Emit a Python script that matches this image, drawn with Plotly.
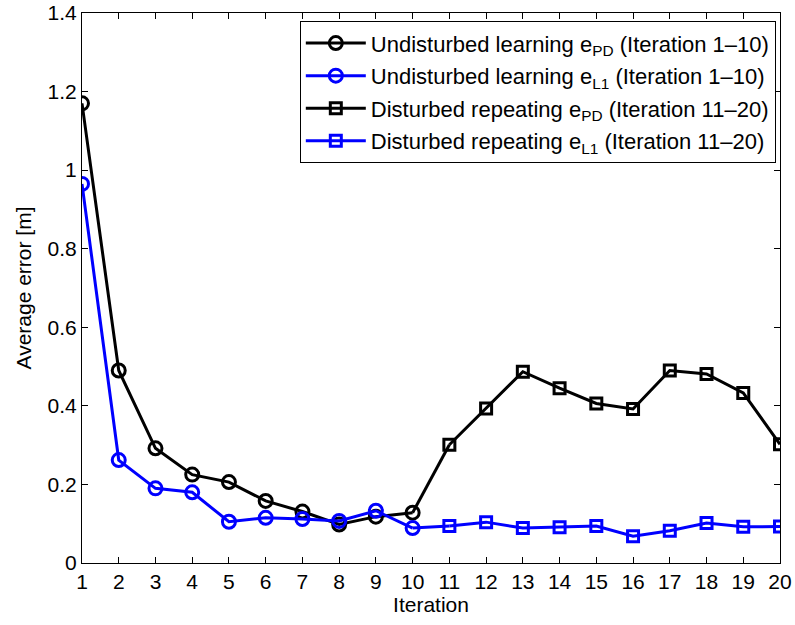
import plotly.graph_objects as go

iter_a = [1, 2, 3, 4, 5, 6, 7, 8, 9, 10]
iter_b = [11, 12, 13, 14, 15, 16, 17, 18, 19, 20]
pd_undist = [1.17, 0.49, 0.292, 0.225, 0.206, 0.158, 0.131, 0.098, 0.118, 0.128]
l1_undist = [0.965, 0.262, 0.19, 0.18, 0.105, 0.115, 0.112, 0.107, 0.133, 0.089]
pd_dist = [0.301, 0.393, 0.487, 0.445, 0.406, 0.392, 0.490, 0.481, 0.433, 0.302]
l1_dist = [0.094, 0.104, 0.089, 0.091, 0.094, 0.068, 0.082, 0.102, 0.092, 0.093]
x_ticks = list(range(1, 21))
y_ticks = [0, 0.2, 0.4, 0.6, 0.8, 1, 1.2, 1.4]
y_tick_text = ["0", "0.2", "0.4", "0.6", "0.8", "1", "1.2", "1.4"]

BLACK = "#000000"
BLUE = "#0000ff"
LW = 3
FONT = "Liberation Sans, Arial, sans-serif"

fig = go.Figure()
# connectors between iteration 10 and 11
fig.add_trace(go.Scatter(x=[iter_a[-1], iter_b[0]], y=[pd_undist[-1], pd_dist[0]], mode="lines",
                         line=dict(color=BLACK, width=LW), showlegend=False, hoverinfo="skip"))
fig.add_trace(go.Scatter(x=[iter_a[-1], iter_b[0]], y=[l1_undist[-1], l1_dist[0]], mode="lines",
                         line=dict(color=BLUE, width=LW), showlegend=False, hoverinfo="skip"))

fig.add_trace(go.Scatter(x=iter_a, y=pd_undist, mode="lines+markers", legendgroup="g1",
                         name="Undisturbed learning e<sub>PD</sub> (Iteration 1\u201310)",
                         line=dict(color=BLACK, width=LW),
                         marker=dict(symbol="circle-open", size=13, line=dict(color=BLACK, width=LW))))
fig.add_trace(go.Scatter(x=iter_a, y=l1_undist, mode="lines+markers", legendgroup="g2",
                         name="Undisturbed learning e<sub>L1</sub> (Iteration 1\u201310)",
                         line=dict(color=BLUE, width=LW),
                         marker=dict(symbol="circle-open", size=13, line=dict(color=BLUE, width=LW))))
fig.add_trace(go.Scatter(x=iter_b, y=pd_dist, mode="lines+markers", legendgroup="g3",
                         name="Disturbed repeating e<sub>PD</sub> (Iteration 11\u201320)",
                         line=dict(color=BLACK, width=LW),
                         marker=dict(symbol="square-open", size=11, line=dict(color=BLACK, width=LW))))
fig.add_trace(go.Scatter(x=iter_b, y=l1_dist, mode="lines+markers", legendgroup="g4",
                         name="Disturbed repeating e<sub>L1</sub> (Iteration 11\u201320)",
                         line=dict(color=BLUE, width=LW),
                         marker=dict(symbol="square-open", size=11, line=dict(color=BLUE, width=LW))))

axis_common = dict(showline=True, linecolor=BLACK, linewidth=1, mirror="ticks",
                   ticks="inside", ticklen=6, tickcolor=BLACK, showgrid=False, zeroline=False,
                   automargin=False,
                   tickfont=dict(family=FONT, size=21, color=BLACK))

fig.update_layout(
    width=795, height=625,
    margin=dict(l=82, r=15, t=13, b=62),
    paper_bgcolor="white", plot_bgcolor="white",
    font=dict(family=FONT, color=BLACK),
    xaxis=dict(range=[1, 20], tickvals=x_ticks, ticktext=[str(v) for v in x_ticks],
               title=dict(text="Iteration", font=dict(family=FONT, size=21, color=BLACK), standoff=0),
               **axis_common),
    yaxis=dict(range=[0, 1.4], tickvals=y_ticks, ticktext=y_tick_text,
               title=dict(text="Average error [m]", font=dict(family=FONT, size=21, color=BLACK), standoff=10),
               **axis_common),
    legend=dict(x=0.994, y=0.985, xanchor="right", yanchor="top",
                bgcolor="white", bordercolor=BLACK, borderwidth=1,
                font=dict(family=FONT, size=22, color=BLACK), itemwidth=60,
                traceorder="grouped", tracegroupgap=1),
    showlegend=True,
)

fig.write_html("out.html")
